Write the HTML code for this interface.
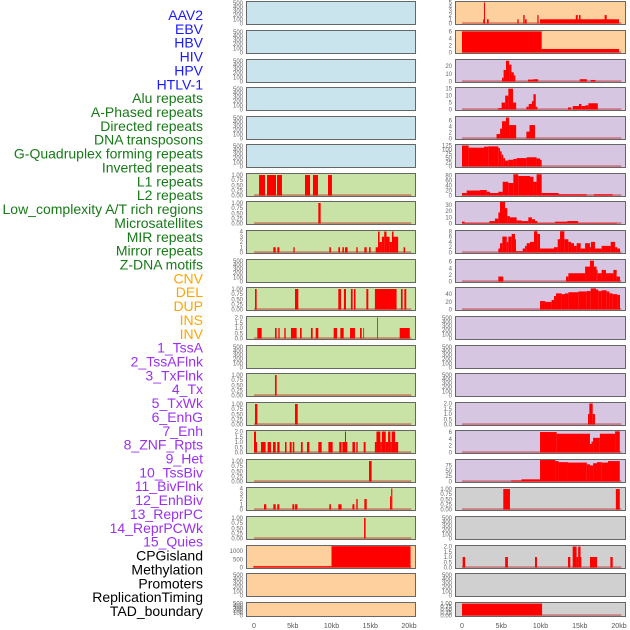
<!DOCTYPE html>
<html><head><meta charset="utf-8">
<style>
html,body{margin:0;padding:0;background:#fff;}
svg{display:block;font-family:"Liberation Sans",sans-serif;}
</style></head>
<body>
<svg id="chart" width="630" height="630" viewBox="0 0 630 630"></svg>
<script>
// ---- data (segments: [startKb, endKb, value]) ----
const trackLabels = ["AAV2","EBV","HBV","HIV","HPV","HTLV-1","Alu repeats","A-Phased repeats","Directed repeats","DNA transposons","G-Quadruplex forming repeats","Inverted repeats","L1 repeats","L2 repeats","Low_complexity A/T rich regions","Microsatellites","MIR repeats","Mirror repeats","Z-DNA motifs","CNV","DEL","DUP","INS","INV","1_TssA","2_TssAFlnk","3_TxFlnk","4_Tx","5_TxWk","6_EnhG","7_Enh","8_ZNF_Rpts","9_Het","10_TssBiv","11_BivFlnk","12_EnhBiv","13_ReprPC","14_ReprPCWk","15_Quies","CPGisland","Methylation","Promoters","ReplicationTiming","TAD_boundary"];
const labelColors = ["#1a1aff","#1a1aff","#1a1aff","#1a1aff","#1a1aff","#1a1aff","#177a17","#177a17","#177a17","#177a17","#177a17","#177a17","#177a17","#177a17","#177a17","#177a17","#177a17","#177a17","#177a17","#ffa500","#ffa500","#ffa500","#ffa500","#ffa500","#9b30ef","#9b30ef","#9b30ef","#9b30ef","#9b30ef","#9b30ef","#9b30ef","#9b30ef","#9b30ef","#9b30ef","#9b30ef","#9b30ef","#9b30ef","#9b30ef","#9b30ef","#000","#000","#000","#000","#000"];
const xTickValues = [0,5,10,15,20];
const xTickLabels = ["0","5kb","10kb","15kb","20kb"];
const T500 = [0,100,200,300,400,500];
const T1 = [0,0.25,0.5,0.75,1.0];
const T1L = ["0.00","0.25","0.50","0.75","1.00"];
const T2 = [0,0.5,1,1.5,2];
const T2L = ["0.0","0.5","1.0","1.5","2.0"];
const T4 = [0,1,2,3,4];

const L_L1 = [[0.65,1.42,1],[1.68,2.84,1],[2.97,3.61,1],[6.58,7.23,1],[7.61,8.26,1],[9.55,10.06,1]];
const L_L2 = [[8.3,8.6,1]];
const L_MIR = [[2.49,2.8,1],[3.01,3.27,1],[5.08,5.25,1],[9.72,9.93,1],[10.88,11.1,1],[11.4,11.6,1],[11.74,12.08,1],[13.2,13.38,1],[14.24,14.54,1],[14.84,15.05,1],[15.7,16.0,1],[16.0,16.2,4],[16.2,16.5,2],[16.5,16.8,3],[16.8,17.1,4],[17.1,17.5,3],[17.5,17.8,2],[17.8,18.0,4],[18.0,18.2,3],[18.2,18.6,3],[19.3,19.5,1]];
const L_DEL = [[0.13,0.34,1],[5.29,5.72,1],[10.88,11.23,1],[11.6,11.87,1],[12.5,12.73,1],[12.9,13.1,1],[14.5,14.75,1],[15.6,18.4,1],[18.96,19.18,1],[19.4,19.65,1]];
const L_INS = [[0.43,0.99,1],[2.71,2.92,1],[3.14,3.31,1],[3.91,4.09,1],[4.77,5.5,1],[5.94,6.15,1],[7.35,7.57,1],[7.96,8.3,1],[10.28,10.71,1],[11.14,11.57,1],[12.39,13.03,1],[13.68,13.9,1],[14.1,14.2,1],[15.9,16.0,2],[18.8,20.1,1]];
const L_TssA = [[2.71,2.92,1]];
const L_TxFlnk = [[0.13,0.43,1],[5.29,5.64,1]];
const L_Enh = [[0.0,0.26,2],[0.26,0.39,1],[0.9,1.5,1],[1.76,2.19,1],[2.45,2.8,1],[3.0,3.3,1],[4.0,4.2,1],[4.6,4.86,1],[5.0,5.2,1],[6.06,6.28,1],[6.84,7.14,1],[8.3,8.73,1],[9.6,10.15,1],[11.0,11.3,1],[11.4,11.74,1],[11.74,11.87,2],[11.87,12.04,1],[12.7,13.03,1],[13.2,13.38,1],[14.15,14.4,1],[15.6,15.8,1],[15.8,16.3,2],[16.3,16.5,1],[16.5,17.0,2],[17.0,17.3,1],[17.3,17.6,2],[17.6,17.76,1],[17.76,18.2,2],[18.2,18.6,1]];
const L_Het = [[14.84,15.18,1]];
const L_BivFlnk = [[1.29,1.59,1],[2.49,2.8,1],[3.0,3.27,1],[4.95,5.2,1],[5.3,5.6,1],[9.72,9.93,1],[10.88,11.3,1],[12.7,12.96,1],[13.2,13.38,2],[14.24,14.54,2],[17.55,17.7,2.5],[17.7,17.85,4]];
const L_ReprPC = [[14.2,14.4,1]];
const L_CPG = [[-0.1,10.0,80],[10.0,20.2,1300]];

const R_AAV2 = [[2.8,2.93,5],[2.7,2.8,1],[3.18,3.4,1],[7.05,7.22,1],[7.8,7.98,2],[8.03,8.24,1],[9.6,9.76,2],[9.94,20.0,1],[14.5,14.74,2],[14.9,15.1,2],[18.17,18.43,2]];
const R_EBV = [[0,10.15,6],[10.15,20.0,1]];
const R_HBV = [[5.1,5.3,5],[5.3,5.6,15],[5.6,6.0,27],[6.0,6.3,22],[6.3,6.6,12],[6.6,6.8,8],[8.4,9.1,2.5],[9.1,9.7,3],[15.0,15.9,3],[16.4,17.0,2]];
const R_HIV = [[4.6,5.05,1],[5.05,5.5,5],[5.5,5.9,10],[5.9,6.5,15],[6.5,6.9,5],[8.2,8.5,2],[8.5,8.9,4],[8.9,9.1,6],[9.1,9.4,11],[9.4,9.6,2],[13.5,13.9,1.5],[14.1,14.9,2.5],[14.9,15.2,4],[15.2,15.7,2.5],[15.7,16.1,3],[16.1,17.3,4.5]];
const R_HPV = [[4.4,4.85,1.5],[4.85,5.1,3.3],[5.1,5.6,5.8],[5.6,6.0,7],[6.0,6.9,4.5],[8.2,8.6,2.3],[8.6,9.3,4.5]];
const R_HTLV = [[0,0.85,125],[0.85,2.8,112],[2.8,3.35,118],[3.35,4.63,120],[4.63,4.84,110],[4.84,5.05,90],[5.05,5.26,70],[5.26,5.48,50],[5.48,5.9,35],[5.9,6.54,40],[6.54,6.96,45],[6.96,8.24,50],[8.24,9.5,55],[9.5,9.94,48],[9.94,10.15,40]];
const R_Alu = [[0,0.6,10],[0.6,2.3,20],[2.3,3.15,22],[3.15,3.57,15],[3.57,4.63,10],[4.63,5.18,15],[5.18,5.9,55],[5.9,6.54,50],[6.54,7.17,85],[7.17,8.66,78],[8.66,9.1,75],[9.1,9.5,55],[9.5,10.15,85],[10.15,12.3,10],[12.3,15.9,5],[16.8,19.2,5]];
const R_APh = [[0,0.34,3],[0.34,3.5,1],[3.5,4.2,4],[4.2,4.63,8],[4.63,4.84,18],[4.84,5.48,35],[5.48,5.77,25],[5.77,6.1,12],[6.1,6.96,10],[6.96,7.6,5],[7.6,8.45,4],[8.45,8.9,10],[8.9,9.3,7],[9.3,9.6,4],[9.6,11.85,1],[11.85,13.4,3],[13.4,14.8,4],[14.8,19.7,1]];
const R_Dir = [[4.63,4.84,1.5],[4.84,5.14,3.5],[5.14,5.7,6],[5.7,5.9,4],[5.9,6.33,6],[6.33,6.75,7],[6.75,6.88,5],[6.88,7.73,0.5],[7.73,8.03,1.5],[8.03,8.24,2.5],[8.24,8.66,3.5],[8.66,9.17,4],[9.17,9.6,8],[9.6,9.94,7],[9.94,11.72,1.5],[11.72,12.19,2],[12.19,12.49,5],[12.49,13.04,8],[13.04,13.55,5],[13.55,13.89,4],[13.89,14.27,3.5],[14.27,14.61,2.5],[14.61,15.12,3.5],[15.12,15.68,1.5],[15.68,16.3,3.5],[16.3,16.42,2],[16.42,16.94,4],[16.94,17.79,1.5],[17.79,18.34,2.5],[18.34,18.94,2.5],[18.94,19.5,4],[19.5,19.8,2],[19.8,20.13,1.5]];
const R_DNA = [[4.63,5.26,1.5],[13.25,13.55,1.5],[13.55,15.68,2.5],[15.68,16.3,4.5],[16.3,16.81,6.3],[16.81,17.15,4.5],[17.15,17.28,3.5],[17.28,17.79,2.5],[17.79,18.34,3.5],[18.34,19.28,2.5],[19.28,19.7,3.5],[19.7,20.13,1.5]];
const R_GQ = [[9.94,10.57,22],[10.57,11.42,20],[11.42,11.72,25],[11.72,11.98,35],[11.98,12.7,42],[12.7,13.12,40],[13.12,13.55,42],[13.55,14.82,45],[14.82,15.88,47],[15.88,16.39,48],[16.39,17.07,55],[17.07,17.37,52],[17.37,17.79,48],[17.79,18.43,50],[18.43,18.77,47],[18.77,19.19,42],[19.19,19.79,40],[19.79,20.13,38]];
const R_Low = [[16.05,16.22,1],[16.22,16.65,2],[16.65,16.94,1]];
const R_MIR = [[9.94,12.06,6],[12.06,16.3,5.5],[16.3,16.5,2.5],[16.5,16.7,3.2],[16.7,17.56,4.3],[17.56,19.5,5.5],[19.5,20.1,6.2]];
const R_Mirror = [[6.26,7.57,5],[7.57,9.94,10],[9.94,11.9,100],[11.9,12.3,95],[12.3,13.5,90],[13.5,15.9,88],[15.9,16.3,80],[16.3,16.7,75],[16.7,17.2,85],[17.2,17.8,90],[17.8,18.6,88],[18.6,20.1,95]];
const R_Z = [[5.26,6.11,1],[19.6,20.1,1]];
const R_Quies = [[0.08,0.4,1],[5.5,5.85,1],[9.3,9.55,1],[13.5,13.8,1],[14.1,14.6,2],[14.6,14.8,1],[14.8,15.1,2],[15.1,15.2,1],[16.3,17.2,1],[18.9,19.2,1]];
const R_TAD = [[0,10.2,1]];

// ---- layout ----
const panelTops = [0,29,58,86,115,143,172,200,229,258,286,315,344,372,401,429,458,486,515,544,572,601];
const BLUE="#c9e4ec", GREEN="#c9e2a6", ORANGE="#fed09e", PURPLE="#d6c6e1", GREY="#d0d0d0";
function P(data, ticks, tickLabels, ymax, bg, name){return {data, ticks, tickLabels, ymax, bg, name};}
const leftPanels = [
 P(null,T500,null,520,BLUE,"aav2-hiv"),P(null,T500,null,520,BLUE,"ebv-hbv"),P(null,T500,null,520,BLUE,"hiv-hpv"),
 P(null,T500,null,520,BLUE,"hpv-htlv"),P(null,T500,null,520,BLUE,"htlv-alu"),P(null,T500,null,520,BLUE,"aphased-directed"),
 P(L_L1,T1,T1L,1.05,GREEN,"l1-repeats"),P(L_L2,T1,T1L,1.05,GREEN,"l2-repeats"),P(L_MIR,T4,null,4.1,GREEN,"mir-repeats"),
 P(null,T500,null,520,GREEN,"zdna-motifs"),P(L_DEL,T1,T1L,1.05,GREEN,"del"),P(L_INS,T2,T2L,2.05,GREEN,"ins"),
 P(null,T500,null,520,GREEN,"tss-a"),P(L_TssA,T1,T1L,1.05,GREEN,"tx-flnk"),P(L_TxFlnk,T1,T1L,1.05,GREEN,"tx-wk"),
 P(L_Enh,T2,T2L,2.05,GREEN,"enh"),P(L_Het,T1,T1L,1.05,GREEN,"het"),P(L_BivFlnk,T4,null,4.1,GREEN,"biv-flnk"),
 P(L_ReprPC,T1,T1L,1.05,GREEN,"repr-pc"),P(L_CPG,[0,500,1000],null,1310,ORANGE,"cpg-island"),
 P(null,T500,null,520,ORANGE,"promoters"),P(null,T500,null,520,ORANGE,"tad-boundary")
];
const rightPanels = [
 P(R_AAV2,[0,1,2,3,4,5],null,5.1,ORANGE,"r-aav2"),P(R_EBV,[0,2,4,6],null,6.1,ORANGE,"r-ebv"),
 P(R_HBV,[0,10,20],null,28,PURPLE,"r-hbv"),P(R_HIV,[0,5,10,15],null,15.5,PURPLE,"r-hiv"),
 P(R_HPV,[0,2,4,6],null,7.2,PURPLE,"r-hpv"),P(R_HTLV,[0,25,50,75,100,125],null,128,PURPLE,"r-htlv"),
 P(R_Alu,[0,20,40,60,80],null,86,PURPLE,"r-alu"),P(R_APh,[0,10,20,30],null,35,PURPLE,"r-aphased"),
 P(R_Dir,[0,2,4,6,8],null,8.1,PURPLE,"r-directed"),P(R_DNA,[0,2,4,6],null,6.5,PURPLE,"r-dna-transposons"),
 P(R_GQ,[0,20,40],null,56,PURPLE,"r-gquad"),P(null,T500,null,520,PURPLE,"r-inverted"),
 P(null,T500,null,520,PURPLE,"r-l1"),P(null,T500,null,520,PURPLE,"r-l2"),
 P(R_Low,T2,T2L,2.05,PURPLE,"r-low-complexity"),P(R_MIR,[0,2,4,6],null,6.3,PURPLE,"r-mir"),
 P(R_Mirror,[0,25,50,75],null,100,PURPLE,"r-mirror"),P(R_Z,T1,T1L,1.05,GREY,"r-zdna"),
 P(null,T500,null,520,GREY,"r-cnv"),P(R_Quies,T2,T2L,2.05,GREY,"r-del"),
 P(null,T500,null,520,GREY,"r-dup"),P(R_TAD,T1,T1L,1.05,GREY,"r-ins")
];
const cols = [
 {panels:leftPanels, x0:246, x1:416, z:254, k:7.75, name:"left"},
 {panels:rightPanels, x0:455, x1:626, z:462, k:7.85, name:"right"}
];

const NS="http://www.w3.org/2000/svg";
const svg=document.getElementById('chart');
function mk(tag, attrs, parent){const e=document.createElementNS(NS,tag);for(const a in attrs)e.setAttribute(a,attrs[a]);(parent||svg).appendChild(e);return e;}

// track labels
trackLabels.forEach((t,i)=>{
  const el=mk('text',{x:203,y:15+i*13.86+5,'text-anchor':'end','font-size':14,fill:labelColors[i]});
  el.textContent=t;
  
  
});

cols.forEach(col=>{
  const xs = kb => col.z + kb*col.k;
  col.panels.forEach((p,i)=>{
    const top=panelTops[i]+1, h=(i===21?15:24), bottom=top+h;
    const g=mk('g',{});
    
    
    mk('rect',{x:col.x0,y:top,width:col.x1-col.x0,height:h,fill:p.bg},g);
    const plotTop=top+1, plotBottom=bottom-1.5;
    const ys = v => plotBottom - v/p.ymax*(plotBottom-plotTop);
    if(p.data){
      mk('rect',{x:xs(0),y:plotBottom-1.2,width:xs(20.3)-xs(0),height:1.6,fill:'rgba(190,30,30,0.5)'},g);
      p.data.forEach(d=>{
        const r=mk('rect',{x:xs(d[0]),y:ys(d[2]),width:Math.max(0.8,xs(d[1])-xs(d[0])),height:plotBottom-ys(d[2]),fill:'#ff0000'},g);
        
        
      });
    }
    mk('rect',{x:col.x0+0.5,y:top+0.5,width:col.x1-col.x0-1,height:h-1,fill:'none',stroke:'#666',"stroke-width":1},g);
    p.ticks.forEach((tv,j)=>{
      const lab = p.tickLabels ? p.tickLabels[j] : String(tv);
      const t=mk('text',{x:col.x0-3,y:ys(tv)+2,'text-anchor':'end','font-size':6,fill:'#666'},g);
      t.textContent=lab;
      
      
    });
  });
  xTickValues.forEach((v,j)=>{
    const t=mk('text',{x:xs(v),y:628,'text-anchor':'middle','font-size':7,fill:'#555'});
    t.textContent=xTickLabels[j];
    
    
  });
});
</script>
</body></html>
